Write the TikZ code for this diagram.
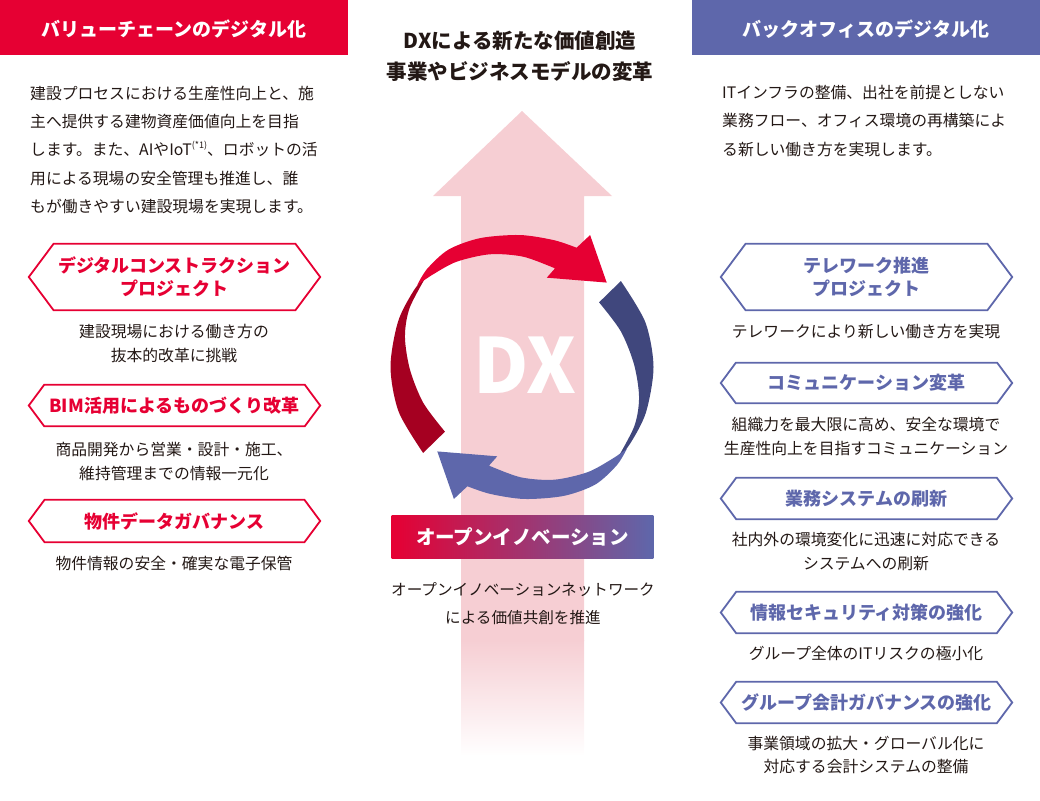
\documentclass[tikz,border=0pt]{standalone}
\usepackage{fontspec}
\setmainfont{Noto Sans CJK JP}
\usetikzlibrary{calc}
\definecolor{jred}{RGB}{230,0,51}
\definecolor{jdred}{RGB}{165,0,33}
\definecolor{jblue}{RGB}{94,103,171}
\definecolor{jnavy}{RGB}{64,71,125}
\definecolor{jpink}{RGB}{246,206,211}
\definecolor{jtext}{RGB}{35,24,21}
\newcommand\HexBox[6]{%
  \node[hexlbl, text=#5, minimum height=#4pt] (#1) at (#2,#3) {#6};
  \pgfmathsetmacro\hexins{0.375*#4}%
  \draw[hexline, draw=#5] (#1.west) -- ([xshift=\hexins pt]#1.north west) -- ([xshift=-\hexins pt]#1.north east) -- (#1.east) -- ([xshift=-\hexins pt]#1.south east) -- ([xshift=\hexins pt]#1.south west) -- cycle;
}
\begin{document}
\begin{tikzpicture}[x=1pt,y=-1pt,
  hexlbl/.style={inner sep=0pt, minimum width=291pt, align=center, font=\fontsize{18}{23}\selectfont\bfseries},
  hexline/.style={line width=1.8pt, line join=miter},
  subtxt/.style={align=center, text=jtext, inner sep=0pt, font=\fontsize{15.8}{23.3}\selectfont},
  paratxt/.style={align=left, text=jtext, inner sep=0pt, anchor=west, font=\fontsize{15.8}{28.3}\selectfont},
  hdrtxt/.style={text=white, font=\fontsize{19}{19}\selectfont\bfseries, inner sep=0pt},
  hdrbox/.style={inner sep=0pt, minimum height=55pt, minimum width=348pt, anchor=north west},
]
\useasboundingbox (0,0) rectangle (1040,800);

% headers
\node[hdrbox, fill=jred] (hl) at (0,0) {};
\node[hdrtxt] (hlt) at (174,29) {バリューチェーンのデジタル化};
\node[hdrbox, fill=jblue] (hr) at (692,0) {};
\node[hdrtxt] (hrt) at (866,29) {バックオフィスのデジタル化};

% paragraphs
\node[paratxt] (lpara) at (30,150) {建設プロセスにおける生産性向上と、施\\主へ提供する建物資産価値向上を目指\\します。また、AIやIoT\raisebox{0.5em}{\fontsize{9}{9}\selectfont(*1)}、ロボットの活\\用による現場の安全管理も推進し、誰\\もが働きやすい建設現場を実現します。};
\node[paratxt] (rpara) at (722,121) {ITインフラの整備、出社を前提としない\\業務フロー、オフィス環境の再構築によ\\る新しい働き方を実現します。};

% center title
\node[align=center, text=jtext, inner sep=0pt, font=\fontsize{20.5}{31.5}\selectfont\bfseries] (ctitle) at (520,56) {DXによる新たな価値創造\\事業やビジネスモデルの変革};

% big pink arrow
\fill[jpink] (522,111) -- (612,196) -- (584,196) -- (584,641) -- (461,641) -- (461,196) -- (433,196) -- cycle;
\shade[top color=jpink, bottom color=white] (461,640) rectangle (584,756);

\node[text=white, inner sep=0pt, font=\fontsize{76}{76}\selectfont\bfseries] (dx) at (524.5,365.5) {DX};

% cycle arrows
\begin{scope}[shift={(522,367)}]
 \fill[jdred] plot[smooth] coordinates {(139:131) (160:131.2) (180:131.5) (200:132) (215:132.5) (226:133.5)} -- plot[smooth] coordinates {(226:133.5) (208:127) (194.5:120.9) (178.5:112) (160:105) (140:100.6)} -- cycle;
 \fill[jred] plot[smooth] coordinates {(218:133) (226:136.5) (238:138.5) (252:135.5) (269:132) (284:130.8) (294.6:131.2)} -- (297.3:148.5) -- (315.1:119.6) -- (285.5:92.7) -- (288.5:104) -- plot[smooth] coordinates {(288.5:104) (270.7:110.3) (254.1:117.2) (238.2:123.9) (226:128.5) (218:133)} -- cycle;
\end{scope}
\begin{scope}[shift={(522,367)}, rotate=180]
 \fill[jnavy] plot[smooth] coordinates {(139:131) (160:131.2) (180:131.5) (200:132) (215:132.5) (226:133.5)} -- plot[smooth] coordinates {(226:133.5) (208:127) (194.5:120.9) (178.5:112) (160:105) (140:100.6)} -- cycle;
 \fill[jblue] plot[smooth] coordinates {(218:133) (226:136.5) (238:138.5) (252:135.5) (269:132) (284:130.8) (294.6:131.2)} -- (297.3:148.5) -- (315.1:119.6) -- (285.5:92.7) -- (288.5:104) -- plot[smooth] coordinates {(288.5:104) (270.7:110.3) (254.1:117.2) (238.2:123.9) (226:128.5) (218:133)} -- cycle;
\end{scope}

% open innovation
\shade[left color=jred, right color=jblue] (391.7,515) rectangle (653.3,558.3);
\node[text=white, inner sep=0pt, font=\fontsize{19.5}{19.5}\selectfont\bfseries] (oi) at (522.5,536.7) {オープンイノベーション};
\node[subtxt, font=\fontsize{15.6}{28}\selectfont] (oisub) at (523,604) {オープンイノベーションネットワーク\\による価値共創を推進};

% left hexes
\HexBox{lh1}{174.5}{277}{66}{jred}{デジタルコンストラクション\\プロジェクト}
\node[subtxt] (ls1) at (174,343.5) {建設現場における働き方の\\抜本的改革に挑戦};
\HexBox{lh2}{174.5}{405.5}{41}{jred}{BIM活用によるものづくり改革}
\node[subtxt] (ls2) at (174,461.5) {商品開発から営業・設計・施工、\\維持管理までの情報一元化};
\HexBox{lh3}{174.5}{521}{42}{jred}{物件データガバナンス}
\node[subtxt] (ls3) at (174,563) {物件情報の安全・確実な電子保管};

% right hexes
\HexBox{rh1}{866.5}{277}{66}{jblue}{テレワーク推進\\プロジェクト}
\node[subtxt] (rs1) at (866,332) {テレワークにより新しい働き方を実現};
\HexBox{rh2}{866.5}{383}{40}{jblue}{コミュニケーション変革}
\node[subtxt] (rs2) at (866,436.5) {組織力を最大限に高め、安全な環境で\\生産性向上を目指すコミュニケーション};
\HexBox{rh3}{866.5}{498.5}{41}{jblue}{業務システムの刷新}
\node[subtxt] (rs3) at (866,551.5) {社内外の環境変化に迅速に対応できる\\システムへの刷新};
\HexBox{rh4}{866.5}{612.5}{41}{jblue}{情報セキュリティ対策の強化}
\node[subtxt] (rs4) at (866,653) {グループ全体のITリスクの極小化};
\HexBox{rh5}{866.5}{702.5}{41}{jblue}{グループ会計ガバナンスの強化}
\node[subtxt] (rs5) at (866,755) {事業領域の拡大・グローバル化に\\対応する会計システムの整備};
\end{tikzpicture}
\end{document}
